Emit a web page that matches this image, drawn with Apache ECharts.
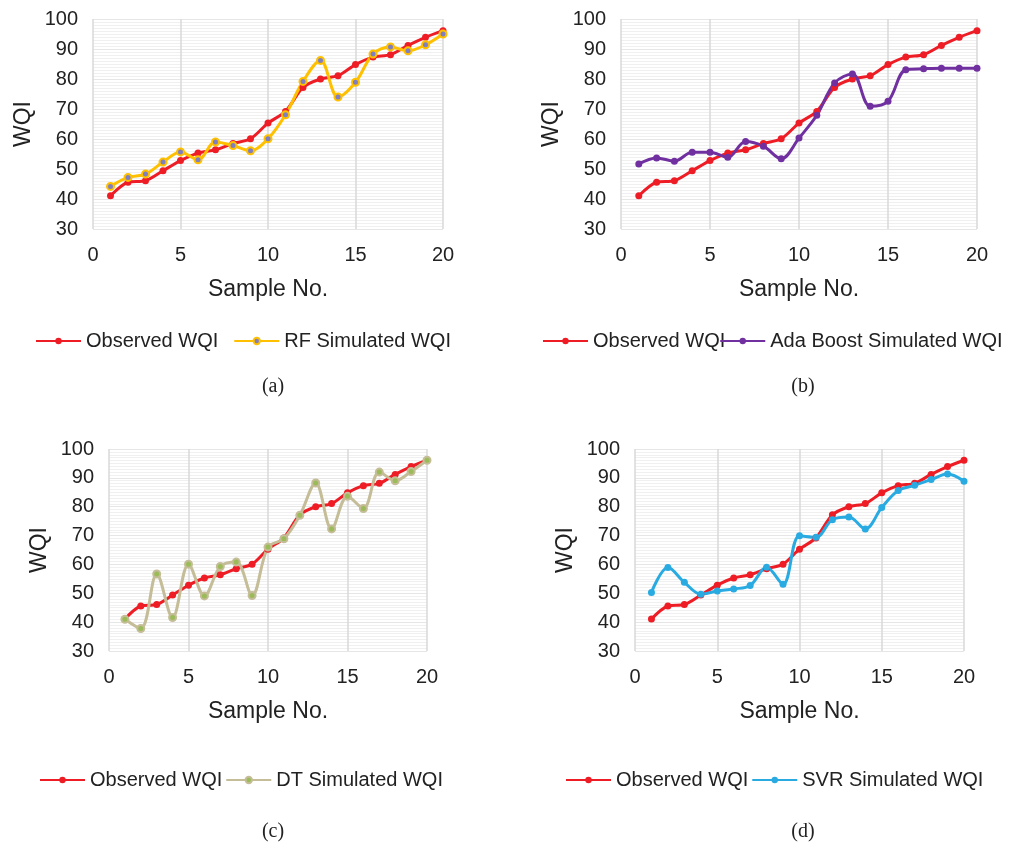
<!DOCTYPE html>
<html>
<head>
<meta charset="utf-8">
<title>WQI</title>
<script src="https://cdn.jsdelivr.net/npm/echarts@6/dist/echarts.min.js"></script>
<style>
  html, body { margin: 0; padding: 0; background: #fff; }
  #main { width: 1015px; height: 850px; }
</style>
</head>
<body>
<div id="main"></div>
<script>
// 数据
var samples = [1, 2, 3, 4, 5, 6, 7, 8, 9, 10, 11, 12, 13, 14, 15, 16, 17, 18, 19, 20]
var observed = [41.1, 45.6, 46.1, 49.4, 52.8, 55.3, 56.4, 58.5, 60.1, 65.3, 69.2, 77.2, 80.0, 81.1, 84.8, 87.3, 88.1, 91.2, 93.9, 96.1]
var rfSim = [44.2, 47.2, 48.3, 52.3, 55.7, 53.1, 59.0, 57.8, 56.1, 60.1, 68.1, 79.2, 86.2, 74.0, 78.9, 88.3, 90.7, 89.4, 91.4, 95.0]
var adaSim = [51.7, 53.7, 52.6, 55.6, 55.6, 53.9, 59.2, 57.6, 53.4, 60.3, 67.9, 78.7, 81.7, 70.9, 72.6, 83.1, 83.4, 83.6, 83.6, 83.6]
var dtSim = [41.0, 37.8, 56.7, 41.6, 60.1, 49.1, 59.3, 60.8, 49.2, 66.0, 68.9, 77.0, 88.2, 72.3, 83.6, 79.4, 92.0, 89.0, 92.2, 96.1]
var svrSim = [50.3, 58.9, 53.8, 49.7, 50.8, 51.5, 52.7, 59.0, 53.1, 69.9, 69.4, 75.5, 76.4, 72.3, 79.7, 85.6, 87.4, 89.4, 91.3, 88.8]
var captions = ['(a)', '(b)', '(c)', '(d)']

function pairs(vals) {
  var arr = []
  for (var i = 0; i < samples.length; i++) {
    arr.push([samples[i], vals[i]])
  }
  return arr
}

var font = 'Liberation Sans, Arial, Helvetica, sans-serif'
var grids = [
  { left: 93, top: 19, width: 350, height: 210 },
  { left: 621, top: 19, width: 356, height: 210 },
  { left: 109, top: 449, width: 318, height: 202 },
  { left: 635, top: 449, width: 329, height: 202 }
]

var xAxes = []
var yAxes = []
for (var i = 0; i < 4; i++) {
  xAxes.push({
    type: 'value', gridIndex: i, min: 0, max: 20, interval: 5,
    name: 'Sample No.', nameLocation: 'middle', nameGap: 49,
    nameTextStyle: { fontFamily: font, fontSize: 23, color: '#222' },
    axisLine: { show: false },
    axisTick: { show: false },
    axisLabel: { fontFamily: font, fontSize: 20, color: '#222', margin: 16 },
    splitLine: { show: true, lineStyle: { color: '#d9d9d9', width: 1.5 } }
  })
  yAxes.push({
    type: 'value', gridIndex: i, min: 30, max: 100, interval: 10,
    name: 'WQI', nameLocation: 'middle', nameGap: 58,
    nameTextStyle: { fontFamily: font, fontSize: 23, color: '#222' },
    axisLine: { show: false },
    axisTick: { show: false },
    axisLabel: { fontFamily: font, fontSize: 20, color: '#222', margin: 15 },
    splitLine: { show: true, lineStyle: { color: '#e6e6e6', width: 1 } },
    minorTick: { show: false, splitNumber: 10 },
    minorSplitLine: { show: true, lineStyle: { color: '#f0f0f0', width: 1 } }
  })
}

function obsSeries(idx) {
  return {
    name: 'Observed WQI', type: 'line', xAxisIndex: idx, yAxisIndex: idx,
    data: pairs(observed), smooth: 0.3,
    symbol: 'circle', symbolSize: 7,
    lineStyle: { color: '#ee1c25', width: 3 },
    itemStyle: { color: '#ee1c25' }
  }
}
function simSeries(idx, name, vals, lineColor, fill) {
  return {
    name: name, type: 'line', xAxisIndex: idx, yAxisIndex: idx,
    data: pairs(vals), smooth: 0.35,
    symbol: 'circle', symbolSize: 7,
    lineStyle: { color: lineColor, width: 3 },
    itemStyle: { color: fill, borderColor: lineColor, borderWidth: fill === lineColor ? 0 : 2 }
  }
}

var legendPos = [
  { left: 30, top: 326, gap: 15, names: ['Observed WQI', 'RF Simulated WQI'] },
  { left: 537, top: 326, gap: -6, names: ['Observed WQI', 'Ada Boost Simulated WQI'] },
  { left: 34, top: 765, gap: 3, names: ['Observed WQI', 'DT Simulated WQI'] },
  { left: 560, top: 765, gap: 3, names: ['Observed WQI', 'SVR Simulated WQI'] }
]
var legends = legendPos.map(function (p, i) {
  return {
    left: p.left, top: p.top, itemGap: p.gap, itemWidth: 45, itemHeight: 8,
    data: p.names,
    textStyle: { fontFamily: font, fontSize: 20, color: '#222' }
  }
})

var capPos = [[268, 372], [798, 372], [268, 817], [798, 817]]
var titles = captions.map(function (c, i) {
  return {
    text: c, left: capPos[i][0], top: capPos[i][1], textAlign: 'center',
    textStyle: { fontFamily: 'Liberation Serif, Times New Roman, serif', fontSize: 20, fontWeight: 'normal', color: '#222' }
  }
})

var chart = echarts.init(document.getElementById('main'))
chart.setOption({
  animation: false,
  backgroundColor: '#fff',
  title: titles,
  legend: legends,
  grid: grids,
  xAxis: xAxes,
  yAxis: yAxes,
  series: [
    obsSeries(0), simSeries(0, 'RF Simulated WQI', rfSim, '#ffc000', '#7f7fc0'),
    obsSeries(1), simSeries(1, 'Ada Boost Simulated WQI', adaSim, '#7030a0', '#7030a0'),
    obsSeries(2), simSeries(2, 'DT Simulated WQI', dtSim, '#c4bd97', '#9bbb59'),
    obsSeries(3), simSeries(3, 'SVR Simulated WQI', svrSim, '#29abe2', '#29abe2')
  ]
})
</script>
</body>
</html>
